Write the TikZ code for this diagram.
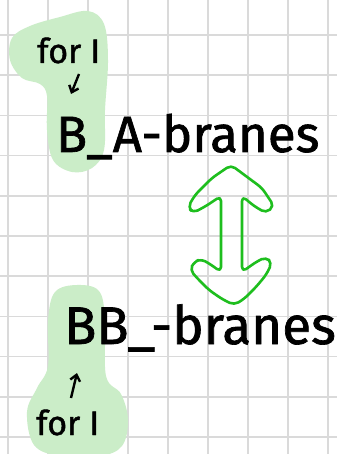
\documentclass[tikz,border=0pt]{standalone}
\usepackage{fontspec}
\setmainfont{Fira Sans}
\newfontfamily\handfont[FakeBold=1.3]{Fira Sans}
\usetikzlibrary{arrows.meta}
\definecolor{gridgray}{HTML}{DADADA}
\definecolor{hilite}{HTML}{CBEDC8}
\definecolor{arrowgreen}{HTML}{1EBE1E}
\tikzset{
  gridline/.style={draw=gridgray,line width=1.5pt},
  blob/.style={fill=hilite,draw=none},
  bigtext/.style={font=\handfont\fontsize{51}{54}\selectfont,inner sep=0pt,anchor=base west},
  smalltext/.style={font=\handfont\fontsize{34}{36}\selectfont,inner sep=0pt,anchor=base west},
  pointer/.style={draw=black,line width=2.4pt,-{Straight Barb[length=6pt,width=10pt]}},
  bigarrow/.style={draw=arrowgreen,line width=2.6pt,rounded corners=5pt,line join=round}
}
\begin{document}
\begin{tikzpicture}[x=1pt,y=-1pt]
\useasboundingbox (0,0) rectangle (337,454);
\fill[white] (0,0) rectangle (337,454);
% grid
\foreach \gx in {8,48,...,328} \draw[gridline] (\gx,0) -- (\gx,454);
\foreach \k in {0,...,10} \draw[gridline] (0,{35+40.2*\k}) -- (337,{35+40.2*\k});
% highlights
\path[blob] plot[smooth cycle,tension=0.6] coordinates {(88,11) (104,24) (108,60) (105,110) (104,150) (92,168) (72,172) (53,160) (47,130) (47,96) (40,84) (22,78) (10,60) (12,38) (30,26) (60,17)};
\path[blob] plot[smooth cycle,tension=0.6] coordinates {(77,285) (99,291) (105,320) (106,376) (121,394) (128,420) (122,446) (100,456) (60,456) (34,445) (27,412) (37,388) (48,366) (48,320) (55,292)};
% texts
\node[smalltext] (f1) at (37,63) {for I};
\node[bigtext] (t1) at (56,152) {B\_A-branes};
\node[bigtext,font=\handfont\fontsize{53}{56}\selectfont] (t2) at (64,344) {BB\_-branes};
\node[smalltext] (f2) at (36,435) {for I};
\coordinate (a1s) at (79,74);
\coordinate (a1e) at (71,94);
\draw[pointer] (a1s) -- (a1e);
\coordinate (a2s) at (71,398);
\coordinate (a2e) at (77,373);
\draw[pointer] (a2s) -- (a2e);
% green double arrow
\draw[bigarrow] (231,165) -- (262,188) -- (274,206) -- (266,213) -- (254,206) -- (242,196) -- (242,272) -- (256,262) -- (266,257) -- (272,263) -- (266,275) -- (256,287) -- (244,299) -- (234,305) -- (222,299) -- (209,290) -- (198,279) -- (190,270) -- (194,262) -- (201,259) -- (210,264) -- (221,272) -- (221,196) -- (206,206) -- (193,213) -- (188,207) -- (195,195) -- (212,178) -- cycle;
\end{tikzpicture}
\end{document}
